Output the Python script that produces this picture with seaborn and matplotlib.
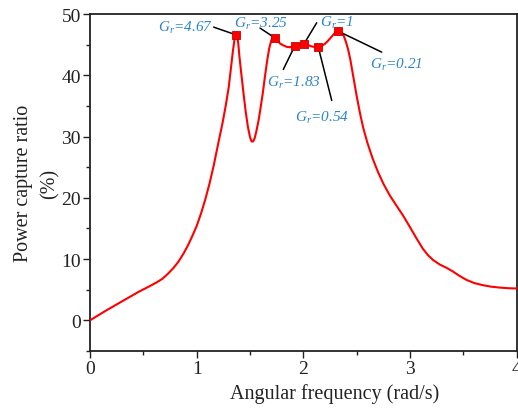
import numpy as np
import pandas as pd
import matplotlib
matplotlib.use("Agg")
import matplotlib.pyplot as plt
from matplotlib.ticker import MultipleLocator
import seaborn as sns

# ---- data ----
freq = [0.0, 0.15, 0.30, 0.45, 0.55, 0.625, 0.68, 0.73, 0.78, 0.83, 0.88, 0.92,
        0.96, 1.0, 1.04, 1.08, 1.12, 1.16, 1.20, 1.24, 1.27, 1.30, 1.32, 1.34,
        1.355, 1.368, 1.38, 1.39, 1.40, 1.42, 1.44, 1.46, 1.48, 1.50, 1.515, 1.53,
        1.545, 1.56, 1.58, 1.60, 1.62, 1.64, 1.66, 1.68, 1.70, 1.715, 1.733, 1.75,
        1.78, 1.81, 1.85, 1.89, 1.92, 1.96, 2.005, 2.04, 2.08, 2.11, 2.14, 2.17,
        2.20, 2.23, 2.26, 2.29, 2.31, 2.326, 2.345, 2.365, 2.38, 2.40, 2.42, 2.44,
        2.46, 2.48, 2.50, 2.53, 2.56, 2.60, 2.65, 2.70, 2.75, 2.81, 2.87, 2.935,
        3.0, 3.06, 3.12, 3.17, 3.22, 3.28, 3.34, 3.40, 3.46, 3.53, 3.60, 3.68,
        3.76, 3.84, 3.92, 4.0]
ratio = [0.0, 1.6, 3.1, 4.6, 5.5, 6.2, 6.8, 7.6, 8.5, 9.6, 11.0, 12.3,
         13.8, 15.4, 17.4, 19.7, 22.3, 25.3, 28.7, 32.0, 34.8, 38.0, 41.0, 44.0,
         45.9, 46.6, 46.4, 45.2, 43.2, 40.0, 36.9, 34.0, 31.6, 29.9, 29.2, 29.2,
         29.8, 30.9, 32.6, 34.8, 37.1, 39.8, 42.3, 44.4, 45.7, 46.2, 46.1, 45.8,
         45.2, 44.9, 44.6, 44.6, 44.8, 45.0, 45.1, 44.95, 44.7, 44.6, 44.6, 44.8,
         45.1, 45.6, 46.2, 46.8, 47.1, 47.2, 47.1, 46.8, 46.4, 45.4, 44.2, 42.6,
         40.6, 38.6, 36.6, 33.9, 31.5, 29.0, 26.4, 24.2, 22.3, 20.4, 18.8, 17.1,
         15.2, 13.4, 11.7, 10.6, 9.8, 9.1, 8.6, 8.0, 7.3, 6.6, 6.1, 5.75,
         5.5, 5.35, 5.25, 5.2]

marker_freq = [1.368, 1.733, 1.92, 2.005, 2.14, 2.326]
marker_ratio = [46.6, 46.1, 44.8, 45.1, 44.6, 47.2]
marker_labels = ["4.67", "3.25", "1.83", "1", "0.54", "0.21"]

x_ticks = [0, 1, 2, 3, 4]
y_ticks = [0, 10, 20, 30, 40, 50]

# ---- layout (label text anchors and leader-line starts, data coords) ----
label_pos = [(1.153, 47.2, "right"), (1.35, 47.96, "left"), (1.659, 38.24, "left"),
             (2.156, 48.12, "left"), (1.922, 32.63, "left"), (2.625, 41.22, "left")]
leader_start = [(1.159, 47.86), (1.594, 47.70), (1.812, 40.95),
                (2.125, 48.56), (2.266, 35.89), (2.734, 43.78)]

sns.set_theme(style="ticks")
plt.rcParams["font.family"] = ["Liberation Serif", "DejaVu Serif"]
plt.rcParams["mathtext.fontset"] = "custom"
plt.rcParams["mathtext.it"] = "Liberation Serif:italic"
plt.rcParams["mathtext.rm"] = "Liberation Serif"

fig = plt.figure(figsize=(5.18, 4.10), dpi=100)
ax = fig.add_axes([90 / 518, 58 / 410, 426.7 / 518, 337 / 410])

df = pd.DataFrame({"freq": freq, "ratio": ratio})
sns.lineplot(data=df, x="freq", y="ratio", color="red", linewidth=1.5,
             sort=False, estimator=None, ax=ax, zorder=3)

for (sx, sy), mx, my in zip(leader_start, marker_freq, marker_ratio):
    ax.plot([sx, mx], [sy, my], color="black", linewidth=1.1, zorder=4)

mdf = pd.DataFrame({"freq": marker_freq, "ratio": marker_ratio})
sns.scatterplot(data=mdf, x="freq", y="ratio", marker="s", s=36, color="red",
                edgecolor="#cc0000", linewidth=0.6, ax=ax, zorder=5)

for (tx, ty, ha), lab in zip(label_pos, marker_labels):
    ax.text(tx, ty, r"$G_r$=" + lab, color="#2b84cc", fontsize=11,
            fontstyle="italic", ha=ha, va="baseline", zorder=6)

ax.set_xlim(0, 4)
ax.set_ylim(-5, 50)
ax.set_xticks(x_ticks)
ax.set_yticks(y_ticks)
ax.xaxis.set_minor_locator(MultipleLocator(0.5))
ax.yaxis.set_minor_locator(MultipleLocator(5))
ax.tick_params(axis="both", which="major", direction="out", length=5, width=1,
               labelsize=14, colors="#222222", pad=1.5)
ax.tick_params(axis="both", which="minor", direction="out", length=3, width=1,
               colors="#222222")
for sp in ax.spines.values():
    sp.set_linewidth(1.3)
    sp.set_color("#222222")
    sp.set_visible(True)

ax.set_xlabel("Angular frequency (rad/s)", fontsize=14.5, color="#222222")
ax.xaxis.set_label_coords(0.574, -0.095)
ax.set_ylabel("Power capture ratio\n(%)", fontsize=14.5, color="#222222",
              linespacing=1.5)
ax.yaxis.set_label_coords(-0.072, 0.5)

fig.savefig("out.png", dpi=100)
